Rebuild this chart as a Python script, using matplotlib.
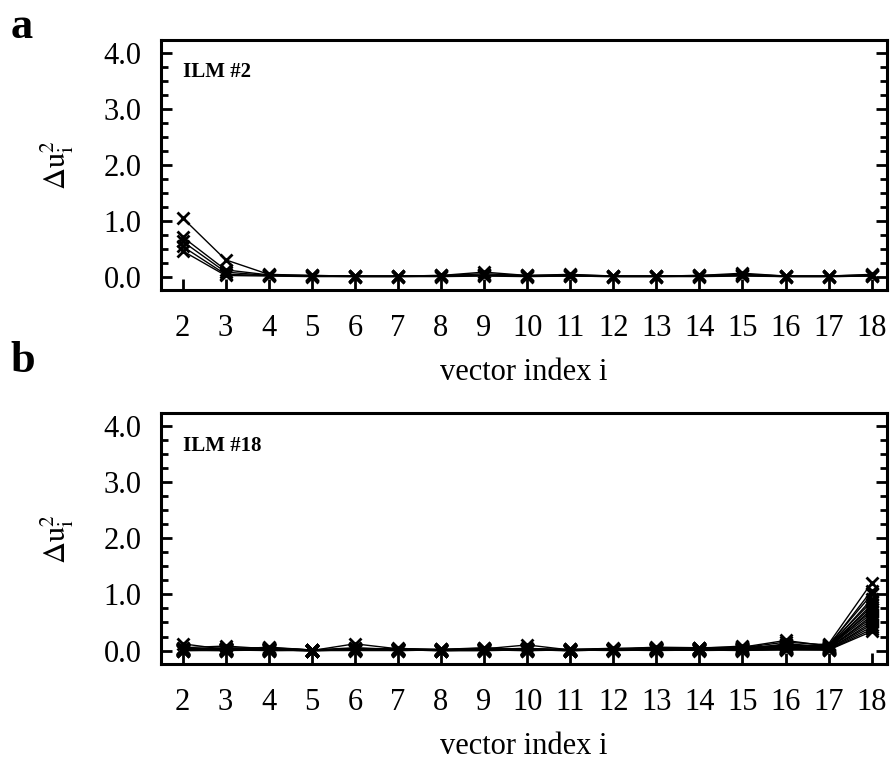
import numpy as np
import matplotlib.pyplot as plt
from matplotlib.ticker import MultipleLocator

plt.rcParams['font.family'] = ['Liberation Serif', 'DejaVu Serif']
plt.rcParams['mathtext.fontset'] = 'stix'

vector_index = list(range(2, 19))

# panel a: ILM #2
ilm2_series = [
    [1.05, 0.30, 0.04, 0.02, 0.01, 0.01, 0.02, 0.08, 0.02, 0.04, 0.01, 0.01, 0.02, 0.06, 0.01, 0.01, 0.04],
    [0.71, 0.12, 0.03, 0.02, 0.01, 0.01, 0.02, 0.05, 0.02, 0.03, 0.01, 0.01, 0.02, 0.04, 0.01, 0.01, 0.03],
    [0.63, 0.08, 0.02, 0.01, 0.01, 0.01, 0.01, 0.03, 0.01, 0.02, 0.01, 0.01, 0.01, 0.03, 0.01, 0.01, 0.02],
    [0.54, 0.04, 0.02, 0.01, 0.00, 0.00, 0.01, 0.02, 0.01, 0.01, 0.00, 0.00, 0.01, 0.02, 0.00, 0.00, 0.01],
    [0.46, 0.02, 0.01, 0.00, 0.00, 0.00, 0.00, 0.01, 0.00, 0.01, 0.00, 0.00, 0.00, 0.01, 0.00, 0.00, 0.01],
]

# panel b: ILM #18
ilm18_series = [
    [0.12, 0.02, 0.06, 0.01, 0.03, 0.02, 0.01, 0.03, 0.10, 0.01, 0.02, 0.05, 0.04, 0.08, 0.05, 0.12, 1.21],
    [0.05, 0.08, 0.03, 0.00, 0.12, 0.03, 0.02, 0.04, 0.02, 0.02, 0.03, 0.06, 0.05, 0.06, 0.18, 0.08, 1.07],
    [0.03, 0.05, 0.04, 0.01, 0.02, 0.04, 0.01, 0.02, 0.03, 0.01, 0.02, 0.03, 0.03, 0.05, 0.15, 0.10, 1.00],
    [0.02, 0.03, 0.02, 0.00, 0.04, 0.02, 0.02, 0.05, 0.01, 0.02, 0.04, 0.04, 0.02, 0.04, 0.10, 0.06, 0.92],
    [0.04, 0.02, 0.05, 0.01, 0.02, 0.01, 0.01, 0.02, 0.04, 0.01, 0.01, 0.02, 0.04, 0.03, 0.08, 0.09, 0.87],
    [0.01, 0.04, 0.01, 0.00, 0.03, 0.03, 0.00, 0.01, 0.02, 0.00, 0.02, 0.05, 0.01, 0.06, 0.06, 0.05, 0.82],
    [0.02, 0.01, 0.03, 0.01, 0.01, 0.02, 0.01, 0.03, 0.01, 0.01, 0.03, 0.02, 0.03, 0.02, 0.12, 0.07, 0.78],
    [0.03, 0.02, 0.02, 0.00, 0.02, 0.01, 0.02, 0.02, 0.02, 0.02, 0.01, 0.03, 0.02, 0.03, 0.05, 0.04, 0.74],
    [0.01, 0.03, 0.04, 0.01, 0.05, 0.02, 0.01, 0.01, 0.03, 0.01, 0.02, 0.01, 0.05, 0.05, 0.09, 0.08, 0.70],
    [0.02, 0.01, 0.01, 0.00, 0.01, 0.01, 0.00, 0.02, 0.01, 0.00, 0.01, 0.02, 0.01, 0.01, 0.04, 0.06, 0.66],
    [0.00, 0.02, 0.02, 0.01, 0.02, 0.03, 0.01, 0.01, 0.02, 0.01, 0.02, 0.04, 0.02, 0.04, 0.07, 0.03, 0.62],
    [0.01, 0.01, 0.03, 0.00, 0.01, 0.01, 0.01, 0.03, 0.01, 0.01, 0.01, 0.01, 0.03, 0.02, 0.03, 0.05, 0.58],
    [0.02, 0.02, 0.01, 0.00, 0.03, 0.02, 0.00, 0.01, 0.02, 0.00, 0.03, 0.02, 0.01, 0.03, 0.06, 0.04, 0.54],
    [0.01, 0.00, 0.02, 0.01, 0.01, 0.01, 0.01, 0.02, 0.01, 0.01, 0.01, 0.03, 0.02, 0.01, 0.02, 0.02, 0.50],
    [0.00, 0.01, 0.01, 0.00, 0.02, 0.00, 0.01, 0.01, 0.00, 0.01, 0.02, 0.01, 0.01, 0.02, 0.04, 0.03, 0.46],
    [0.01, 0.02, 0.00, 0.01, 0.01, 0.01, 0.00, 0.00, 0.01, 0.00, 0.01, 0.02, 0.00, 0.01, 0.03, 0.02, 0.42],
    [0.00, 0.00, 0.01, 0.00, 0.00, 0.00, 0.01, 0.01, 0.00, 0.01, 0.00, 0.01, 0.01, 0.01, 0.01, 0.01, 0.38],
    [0.01, 0.01, 0.00, 0.00, 0.01, 0.01, 0.00, 0.00, 0.01, 0.00, 0.01, 0.00, 0.01, 0.00, 0.02, 0.01, 0.34],
]

panel_letters = ['a', 'b']
panel_titles = ['ILM #2', 'ILM #18']


def style_axis(ax):
    ax.set_xlim(1.5, 18.35)
    ax.set_ylim(-0.24, 4.23)
    ax.set_xticks(vector_index)
    ax.yaxis.set_major_locator(MultipleLocator(1.0))
    ax.yaxis.set_minor_locator(MultipleLocator(0.25))
    ax.yaxis.set_major_formatter(plt.FormatStrFormatter('%.1f'))
    ax.tick_params(axis='y', which='both', direction='in', left=True, right=True,
                   width=2, labelsize=22, pad=14)
    ax.tick_params(axis='y', which='major', length=8)
    ax.tick_params(axis='y', which='minor', length=5)
    ax.tick_params(axis='x', which='major', direction='in', length=8, width=2,
                   top=False, labelsize=22, pad=17)
    for side in ax.spines.values():
        side.set_linewidth(2.2)
    ax.set_xlabel('vector index i', fontsize=22, labelpad=11)
    ax.set_ylabel(r'$\Delta \mathrm{u}_{\mathrm{i}}^{2}$', fontsize=22, labelpad=20)


fig = plt.figure(figsize=(8.96, 7.6), dpi=100)
ax_a = fig.add_axes([0.1797, 0.6184, 0.81, 0.329])
ax_b = fig.add_axes([0.1797, 0.1263, 0.81, 0.330])

for ax, data, letter, title in zip([ax_a, ax_b], [ilm2_series, ilm18_series],
                                    panel_letters, panel_titles):
    for series in data:
        ax.plot(vector_index, series, color='black', linewidth=1.0,
                marker='x', markersize=8, markeredgewidth=2.0)
    style_axis(ax)
    ax.text(0.03, 0.85, title, transform=ax.transAxes, fontsize=15,
            fontweight='bold')

fig.text(0.012, 0.95, 'a', fontsize=32, fontweight='bold')
fig.text(0.012, 0.51, 'b', fontsize=32, fontweight='bold')

fig.savefig('out.png', dpi=100)
